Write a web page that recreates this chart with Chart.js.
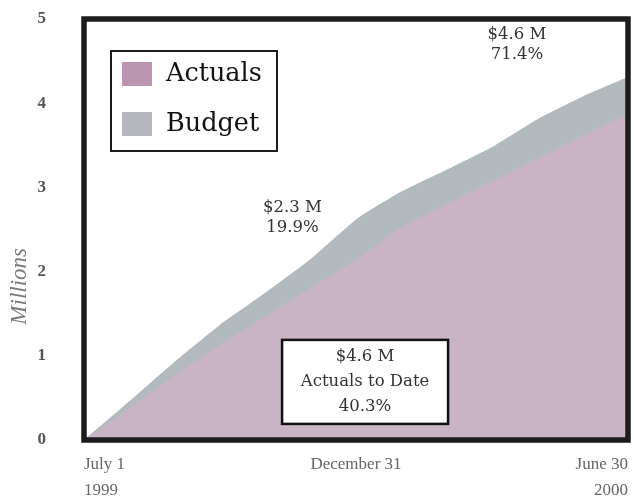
<!DOCTYPE html>
<html><head><meta charset="utf-8">
<script src="https://cdn.jsdelivr.net/npm/chart.js@4/dist/chart.umd.min.js"></script>
<style>html,body{margin:0;padding:0;background:#fff}#wrap{width:634px;height:500px;position:relative}</style>
</head><body><div id="wrap"><canvas id="c" width="634" height="500"></canvas></div>
<script>
// months since July 1, 1999
const months = [0,1,2,3,4,5,6,7,8,9,10,11,12];
const budget = [0,0.46,0.93,1.37,1.75,2.15,2.62,2.95,3.21,3.48,3.81,4.08,4.31];
const actuals = [0,0.38,0.77,1.13,1.47,1.81,2.14,2.53,2.81,3.08,3.35,3.62,3.88];
const seriesNames = ["Actuals","Budget"];
const xTickMonths = [0,6,12];
const xTickLabels = [["July 1","1999"],["December 31"],["June 30","2000"]];
const yTicks = [0,1,2,3,4,5];
const yTitle = "Millions";
const noteDec = ["$2.3 M","19.9%"];
const noteJun = ["$4.6 M","71.4%"];
const noteBox = ["$4.6 M","Actuals to Date","40.3%"];

const SERIF = '"Liberation Serif", "DejaVu Serif", serif';
const WIDE = '"DejaVu Serif", serif';
const ACT_COLOR = '#c8b4c5';
const BUD_COLOR = '#b2babd';

const decorPlugin = {
  id: 'decor',
  afterDatasetsDraw(chart, args, opts) {
    const {ctx, chartArea: a, scales: {x, y}} = chart;
    ctx.save();
    // frame
    ctx.strokeStyle = '#1c1c1c';
    ctx.lineWidth = 5.5;
    ctx.strokeRect(a.left, a.top, a.right - a.left, a.bottom - a.top);
    // legend box
    const lx = a.left + 27, ly = a.top + 32, lw = 166, lh = 100;
    ctx.fillStyle = '#fff';
    ctx.fillRect(lx, ly, lw, lh);
    ctx.lineWidth = 2;
    ctx.strokeRect(lx, ly, lw, lh);
    ctx.font = '25.5px ' + WIDE;
    ctx.textBaseline = 'middle';
    ctx.textAlign = 'left';
    const swCols = ['#b995b0', '#b7b8bf'];
    chart.data.datasets.forEach((ds, i) => {
      const cy = ly + 23 + i * 50;
      ctx.fillStyle = swCols[i];
      ctx.fillRect(lx + 11, cy - 12, 30, 24);
      ctx.fillStyle = '#111';
      ctx.fillText(ds.label, lx + 55, cy);
    });
    // notes
    ctx.font = '16.5px ' + WIDE;
    ctx.fillStyle = '#333';
    ctx.textAlign = 'center';
    const drawNote = (lines, xm, yv, lhgt) => {
      const cx = x.getPixelForValue(xm), cy = y.getPixelForValue(yv);
      const top = cy - (lines.length - 1) * lhgt / 2;
      lines.forEach((t, i) => ctx.fillText(t, cx, top + i * lhgt));
    };
    drawNote(noteDec, opts.dec[0], opts.dec[1], 20);
    drawNote(noteJun, opts.jun[0], opts.jun[1], 20);
    // box note
    const bcx = x.getPixelForValue(opts.box[0]), bcy = y.getPixelForValue(opts.box[1]);
    ctx.fillStyle = '#fff';
    ctx.fillRect(bcx - 83, bcy - 42, 166, 84);
    ctx.strokeStyle = '#111';
    ctx.lineWidth = 2.5;
    ctx.strokeRect(bcx - 83, bcy - 42, 166, 84);
    ctx.fillStyle = '#333';
    noteBox.forEach((t, i) => ctx.fillText(t, bcx, bcy - 25 + i * 25));
    // y title
    ctx.save();
    ctx.translate(20, a.top + (a.bottom - a.top) * 0.635);
    ctx.rotate(-Math.PI / 2);
    ctx.font = 'italic 23px ' + SERIF;
    ctx.fillStyle = '#7a7a7a';
    ctx.fillText(yTitle, 0, 0);
    ctx.restore();
    ctx.restore();
  }
};

new Chart(document.getElementById('c'), {
  type: 'line',
  data: {
    labels: months,
    datasets: [
      {label: seriesNames[0], data: months.map((m, i) => ({x: m, y: actuals[i]})),
       fill: 'origin', backgroundColor: ACT_COLOR, borderWidth: 0, pointRadius: 0, tension: 0.15},
      {label: seriesNames[1], data: months.map((m, i) => ({x: m, y: budget[i]})),
       fill: 'origin', backgroundColor: BUD_COLOR, borderWidth: 0, pointRadius: 0, tension: 0.15}
    ]
  },
  options: {
    responsive: false,
    animation: false,
    layout: {autoPadding: false, padding: {top: 19, right: 6, left: 0, bottom: 0}},
    plugins: {
      legend: {display: false},
      tooltip: {enabled: false},
      decor: {dec: [4.6, 2.64], jun: [9.55, 4.70], box: [6.2, 0.69]}
    },
    scales: {
      x: {
        type: 'linear', min: 0, max: 12,
        grid: {display: false, drawTicks: false},
        border: {display: false},
        afterBuildTicks: s => { s.ticks = xTickMonths.map(v => ({value: v})); },
        afterFit: s => { s.height = 60; s.paddingLeft = 0; s.paddingRight = 0; },
        ticks: {
          align: 'inner', padding: 11, maxRotation: 0, autoSkip: false,
          color: '#666', font: {family: SERIF, size: 17, lineHeight: 1.55},
          callback: v => xTickLabels[xTickMonths.indexOf(v)]
        }
      },
      y: {
        min: 0, max: 5,
        grid: {display: false, drawTicks: false},
        border: {display: false},
        afterBuildTicks: s => { s.ticks = yTicks.map(v => ({value: v})); },
        afterFit: s => { s.width = 84; s.paddingTop = 0; s.paddingBottom = 0; },
        ticks: {padding: 38, color: '#555', font: {family: SERIF, size: 17, weight: 'bold'}}
      }
    }
  },
  plugins: [decorPlugin]
});
</script>
</body></html>
